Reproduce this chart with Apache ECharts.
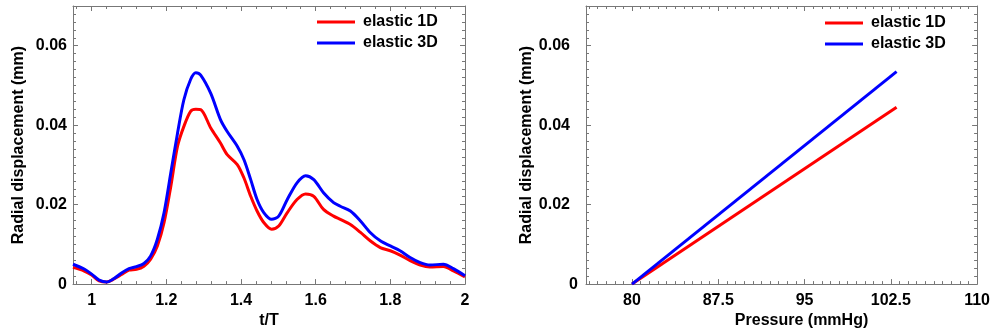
<!DOCTYPE html>
<html>
<head>
<meta charset="utf-8">
<script src="https://cdn.jsdelivr.net/npm/echarts@6/dist/echarts.min.js"></script>
<style>
  html, body { margin: 0; padding: 0; background: #fff; }
  #chart { width: 993px; height: 334px; }
</style>
</head>
<body>
<div id="chart"></div>
<script>
// left panel: radial displacement vs t/T
const tValues = [0.95, 0.98, 1.0, 1.02, 1.04, 1.06, 1.08, 1.1, 1.12, 1.14,
  1.158, 1.176, 1.194, 1.212, 1.23, 1.247, 1.265, 1.279, 1.292, 1.319,
  1.345, 1.363, 1.39, 1.408, 1.426, 1.443, 1.461, 1.482, 1.501, 1.524,
  1.55, 1.573, 1.595, 1.621, 1.648, 1.666, 1.693, 1.72, 1.746, 1.773,
  1.8, 1.826, 1.853, 1.88, 1.906, 1.942, 1.969, 2.0];
const elastic3D = [0.005, 0.0038, 0.0025, 0.001, 0.0005, 0.0014, 0.0028, 0.0039, 0.0044, 0.0052,
  0.0071, 0.0113, 0.018, 0.028, 0.038, 0.0464, 0.0515, 0.0532, 0.0526, 0.048,
  0.0414, 0.0384, 0.0347, 0.0313, 0.0263, 0.0213, 0.018, 0.0163, 0.0171, 0.0213,
  0.0255, 0.0273, 0.0263, 0.023, 0.0205, 0.0196, 0.0184, 0.0159, 0.013, 0.0109,
  0.0096, 0.0084, 0.0067, 0.0054, 0.0048, 0.005, 0.0039, 0.0021];
const elastic1D = [0.0042, 0.0033, 0.0023, 0.0008, 0.0005, 0.0013, 0.0024, 0.0035, 0.0037, 0.0045,
  0.0063, 0.0096, 0.0155, 0.0246, 0.0347, 0.0397, 0.0435, 0.044, 0.0439, 0.0393,
  0.0355, 0.0326, 0.0301, 0.0267, 0.0221, 0.0184, 0.0155, 0.0138, 0.0146, 0.018,
  0.0213, 0.0227, 0.0221, 0.0188, 0.0171, 0.0163, 0.015, 0.013, 0.0109, 0.0092,
  0.0084, 0.0073, 0.0059, 0.0048, 0.0043, 0.0044, 0.0033, 0.0018];

// right panel: radial displacement vs pressure
const pressure = [80, 103];
const press1D = [0, 0.0445];
const press3D = [0, 0.0535];

// tick labels
const tTicks = [1, 1.2, 1.4, 1.6, 1.8, 2];
const pTicks = [80, 87.5, 95, 102.5, 110];
const yTicks = [0, 0.02, 0.04, 0.06];

const FONT = 'Liberation Sans, Arial, Helvetica, sans-serif';
const BOX = '#777';

// minor ticks between min and max with a given step
function minorTicks(start, max, step) {
  const out = [];
  for (let v = start; v <= max + 1e-9; v += step) out.push(+v.toFixed(4));
  return out;
}

// builds the 4 axes of one side pair (bottom/top or left/right) for a grid
function boxAxes(grid, isX, min, max, majors, minors, main) {
  const pos = isX ? ['bottom', 'top'] : ['left', 'right'];
  const list = [];
  pos.forEach((p, i) => {
    const base = {
      type: 'value', gridIndex: grid, min: min, max: max, position: p,
      splitLine: { show: false }
    };
    list.push(Object.assign({}, base, {
      axisLine: { show: true, onZero: false, lineStyle: { color: BOX, width: 1 } },
      axisTick: { show: true, inside: true, length: 5, customValues: majors, lineStyle: { color: BOX } },
      axisLabel: i === 0 ? Object.assign({ customValues: majors }, main.label) : { show: false }
    }, i === 0 ? main.name : {}));
    list.push(Object.assign({}, base, {
      axisLine: { show: false, onZero: false },
      axisTick: { show: true, inside: true, length: 3, customValues: minors, lineStyle: { color: BOX } },
      axisLabel: { show: false }
    }));
  });
  return list;
}

const labelStyle = { color: '#000', fontFamily: FONT, fontWeight: 'bold', fontSize: 16 };
const nameStyle = { color: '#000', fontFamily: FONT, fontWeight: 'bold', fontSize: 16 };

const xAxes = [].concat(
  boxAxes(0, true, 0.95, 2, tTicks, minorTicks(0.96, 2, 0.04), {
    label: Object.assign({ margin: 8 }, labelStyle),
    name: { name: 't/T', nameLocation: 'middle', nameGap: 24, nameTextStyle: nameStyle }
  }),
  boxAxes(1, true, 76, 110, pTicks, minorTicks(76.25, 110, 0.75), {
    label: Object.assign({ margin: 8 }, labelStyle),
    name: { name: 'Pressure (mmHg)', nameLocation: 'middle', nameGap: 24,
      nameTextStyle: Object.assign({ padding: [0, 0, 0, 40] }, nameStyle) }
  })
);

const yName = { name: 'Radial displacement (mm)', nameLocation: 'middle', nameGap: 46, nameTextStyle: nameStyle };
const yAxes = [].concat(
  boxAxes(0, false, 0, 0.07, yTicks, minorTicks(0, 0.07, 0.002), {
    label: Object.assign({ margin: 6 }, labelStyle),
    name: yName
  }),
  boxAxes(1, false, 0, 0.07, yTicks, minorTicks(0, 0.07, 0.002), {
    label: Object.assign({
      margin: 8,
      formatter: v => v === 0 ? '0' : '{p|' + v + '}',
      rich: { p: Object.assign({ padding: [0, 8, 0, 0] }, labelStyle) }
    }, labelStyle),
    name: yName
  })
);

const lineStyle = (color) => ({ color: color, width: 3 });
const mk = (name, color, xs, ys, xi, yi, smooth) => ({
  name: name, type: 'line', xAxisIndex: xi, yAxisIndex: yi,
  data: xs.map((x, i) => [x, ys[i]]),
  showSymbol: false, smooth: smooth, color: color,
  lineStyle: lineStyle(color), animation: false, z: 5
});

const legendBase = {
  orient: 'vertical', icon: 'rect', itemWidth: 38, itemHeight: 3, itemGap: 5, padding: 0,
  textStyle: { color: '#000', fontFamily: FONT, fontWeight: 'bold', fontSize: 16, padding: [0, 0, 0, 3] },
  data: ['elastic 1D', 'elastic 3D']
};

const chart = echarts.init(document.getElementById('chart'));
chart.setOption({
  backgroundColor: '#fff',
  animation: false,
  grid: [
    { left: 73, right: 528, top: 6, height: 279 },
    { left: 586, right: 15, top: 6, height: 279 }
  ],
  legend: [
    Object.assign({ left: 317, top: 14 }, legendBase),
    Object.assign({ left: 825, top: 15 }, legendBase)
  ],
  xAxis: xAxes,
  yAxis: yAxes,
  series: [
    mk('elastic 1D', '#ff0000', tValues, elastic1D, 0, 0, 0.3),
    mk('elastic 3D', '#0000ff', tValues, elastic3D, 0, 0, 0.3),
    mk('elastic 1D', '#ff0000', pressure, press1D, 4, 4, false),
    mk('elastic 3D', '#0000ff', pressure, press3D, 4, 4, false)
  ]
});
</script>
</body>
</html>
